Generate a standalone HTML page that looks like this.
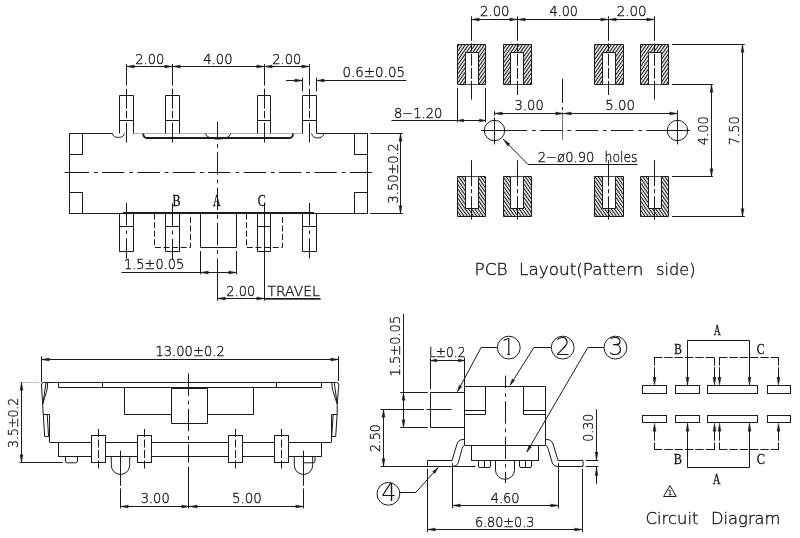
<!DOCTYPE html>
<html><head><meta charset="utf-8"><title>Slide switch drawing</title>
<style>
html,body{margin:0;padding:0;background:#fff}
svg{display:block;will-change:transform}
.ah{fill:#1c1c1c;stroke:#1c1c1c;stroke-width:.4}
.t{font-family:"DejaVu Sans","Liberation Sans",sans-serif;font-weight:200;fill:#151515;stroke:#151515;stroke-width:.35}
.b{stroke-width:.1}
.s{font-family:"Liberation Serif","DejaVu Serif",serif;fill:#111;stroke:#111;stroke-width:.3}
</style></head><body>
<svg width="800" height="538" viewBox="0 0 800 538" fill="none" stroke="#1c1c1c" stroke-width="1">
<defs>
<pattern id="h1" width="2.6" height="2.6" patternUnits="userSpaceOnUse" patternTransform="rotate(35)"><rect width="2.6" height="2.6" fill="#fff" stroke="none"/><line x1="1.3" y1="0" x2="1.3" y2="2.6" stroke="#111" stroke-width="1.1"/></pattern>
<pattern id="h2" width="2.6" height="2.6" patternUnits="userSpaceOnUse" patternTransform="rotate(-35)"><rect width="2.6" height="2.6" fill="#fff" stroke="none"/><line x1="1.3" y1="0" x2="1.3" y2="2.6" stroke="#111" stroke-width="1.1"/></pattern>
</defs>
<rect x="0" y="0" width="800" height="538" fill="#fff" stroke="none"/>
<g>
<g id="topview">
<line x1="69.5" y1="133" x2="69.5" y2="213"/>
<line x1="367.5" y1="133" x2="367.5" y2="213"/>
<line x1="69.6" y1="133.5" x2="112.5" y2="133.5"/>
<path d="M112.5 133.5 A6 4.5 0 0 0 124.4 133.5"/>
<line x1="133.5" y1="133.5" x2="302.9" y2="133.5" stroke-dasharray="1 1" stroke="#6a6a6a"/>
<line x1="316.7" y1="133.5" x2="367.2" y2="133.5"/>
<path d="M311.7 133.5 A6 4.5 0 0 0 323.7 133.5"/>
<path d="M143.2 133.5 Q143.4 138 147 138 H289.3 Q292.9 138 293.1 133.5" stroke-width="1.8"/>
<path d="M205.6 133.5 A12.55 5.6 0 0 0 230.7 133.5"/>
<rect x="69.5" y="133.5" width="13" height="21"/>
<rect x="69.5" y="192.5" width="13" height="21"/>
<rect x="354.5" y="133.5" width="13" height="21"/>
<rect x="354.5" y="192.5" width="13" height="21"/>
<line x1="69.6" y1="213.5" x2="122.8" y2="213.5"/>
<line x1="314.2" y1="213.5" x2="367.2" y2="213.5"/>
<line x1="122.8" y1="213" x2="314.2" y2="213" stroke-width="2"/>
<path d="M119.5 133.5 V95.5 H133.5 V133.5"/>
<line x1="119.7" y1="120.5" x2="133.5" y2="120.5"/>
<path d="M165.5 133.5 V95.5 H179.5 V133.5"/>
<line x1="165.5" y1="120.5" x2="179.3" y2="120.5"/>
<path d="M257.5 133.5 V95.5 H270.5 V133.5"/>
<line x1="257.1" y1="120.5" x2="270.9" y2="120.5"/>
<path d="M302.5 133.5 V95.5 H316.5 V133.5"/>
<line x1="302.9" y1="120.5" x2="316.7" y2="120.5"/>
<path d="M119.5 213.5 V251.5 H133.5 V213.5"/>
<line x1="119.7" y1="226.5" x2="133.5" y2="226.5"/>
<path d="M165.5 213.5 V251.5 H179.5 V213.5"/>
<line x1="165.5" y1="226.5" x2="179.3" y2="226.5"/>
<path d="M257.5 213.5 V251.5 H270.5 V213.5"/>
<line x1="257.1" y1="226.5" x2="270.9" y2="226.5"/>
<path d="M302.5 213.5 V251.5 H316.5 V213.5"/>
<line x1="302.9" y1="226.5" x2="316.7" y2="226.5"/>
<path d="M154.5 213.5 V247.5 H190.5 V213.5" stroke-dasharray="6 2.6"/>
<path d="M246.5 213.5 V247.5 H282.5 V213.5" stroke-dasharray="6 2.6"/>
<path d="M200.5 213.5 V247.5 H236.5 V213.5"/>
<line x1="64.5" y1="172.5" x2="67" y2="172.5"/>
<line x1="369.5" y1="172.5" x2="372" y2="172.5"/>
<line x1="64.5" y1="172.5" x2="372" y2="172.5" stroke-dasharray="22.4 4.9 3.7 4.4" stroke-dashoffset="33.3"/>
<line x1="217.5" y1="121.5" x2="217.5" y2="281.3" stroke-dasharray="22.4 4.9 3.7 4.4" stroke-dashoffset="4.7"/>
<line x1="217.5" y1="281" x2="217.5" y2="300.7"/>
<line x1="126.5" y1="64" x2="126.5" y2="142.5" stroke-dasharray="21.6 3 20 2.2 7.5 4.4 20"/>
<line x1="172.5" y1="64" x2="172.5" y2="142.5" stroke-dasharray="21.6 3 20 2.2 7.5 4.4 20"/>
<line x1="264.5" y1="64" x2="264.5" y2="142.5" stroke-dasharray="21.6 3 20 2.2 7.5 4.4 20"/>
<line x1="309.5" y1="64" x2="309.5" y2="142.5" stroke-dasharray="21.6 3 20 2.2 7.5 4.4 20"/>
<line x1="126.5" y1="203" x2="126.5" y2="258.5" stroke-dasharray="22.4 4.9 3.7 4.4"/>
<line x1="309.5" y1="203" x2="309.5" y2="258.5" stroke-dasharray="22.4 4.9 3.7 4.4"/>
<line x1="172.5" y1="203.4" x2="172.5" y2="259.2" stroke-dasharray="22.4 4.9 3.7 4.4"/>
<line x1="264.5" y1="202.6" x2="264.5" y2="300.7"/>
<text class="s" x="172.6" y="206" font-size="16" textLength="8" lengthAdjust="spacingAndGlyphs">B</text>
<text class="s" x="213" y="206" font-size="16" textLength="7.6" lengthAdjust="spacingAndGlyphs">A</text>
<text class="s" x="257.7" y="206" font-size="16" textLength="8" lengthAdjust="spacingAndGlyphs">C</text>
<line x1="126.6" y1="66.5" x2="309.8" y2="66.5"/>
<polygon class="ah" points="126.5,66.5 134.2,65 134.2,68"/>
<polygon class="ah" points="172.5,66.5 164.8,68 164.8,65"/>
<polygon class="ah" points="172.5,66.5 180.2,65 180.2,68"/>
<polygon class="ah" points="264.5,66.5 256.8,68 256.8,65"/>
<polygon class="ah" points="264.5,66.5 272.2,65 272.2,68"/>
<polygon class="ah" points="309.5,66.5 301.8,68 301.8,65"/>
<text class="t" x="135.3" y="63.5" font-size="14" textLength="29" lengthAdjust="spacingAndGlyphs">2.00</text>
<text class="t" x="203.3" y="63.5" font-size="14" textLength="29.2" lengthAdjust="spacingAndGlyphs">4.00</text>
<text class="t" x="272.3" y="63.5" font-size="14" textLength="29" lengthAdjust="spacingAndGlyphs">2.00</text>
<line x1="302.5" y1="77.6" x2="302.5" y2="91.4"/>
<line x1="316.5" y1="77.6" x2="316.5" y2="91.4"/>
<line x1="286" y1="80.5" x2="302.9" y2="80.5"/>
<polygon class="ah" points="302.5,80.5 294.8,82 294.8,79"/>
<line x1="316.7" y1="80.5" x2="406.3" y2="80.5"/>
<polygon class="ah" points="316.5,80.5 324.2,79 324.2,82"/>
<text class="t" x="342.5" y="77.1" font-size="14" textLength="62.5" lengthAdjust="spacingAndGlyphs">0.6±0.05</text>
<line x1="370.2" y1="133.5" x2="402.8" y2="133.5"/>
<line x1="370.2" y1="213.5" x2="402.8" y2="213.5"/>
<line x1="400.5" y1="133" x2="400.5" y2="213.4"/>
<polygon class="ah" points="400.5,133.5 402,141.2 399,141.2"/>
<polygon class="ah" points="400.5,213.5 399,205.8 402,205.8"/>
<text class="t" x="398" y="203.4" font-size="14" textLength="60.2" lengthAdjust="spacingAndGlyphs" transform="rotate(-90 398 203.4)">3.50±0.2</text>
<line x1="200.5" y1="251" x2="200.5" y2="274.3"/>
<line x1="236.5" y1="251" x2="236.5" y2="274.3"/>
<line x1="121.5" y1="272.5" x2="236.4" y2="272.5"/>
<polygon class="ah" points="200.5,272.5 208.2,271 208.2,274"/>
<polygon class="ah" points="236.5,272.5 228.8,274 228.8,271"/>
<text class="t" x="124" y="268.6" font-size="14" textLength="60.3" lengthAdjust="spacingAndGlyphs">1.5±0.05</text>
<line x1="217.8" y1="298.5" x2="320.5" y2="298.5"/>
<polygon class="ah" points="217.5,298.5 225.2,297 225.2,300"/>
<polygon class="ah" points="264.5,298.5 256.8,300 256.8,297"/>
<text class="t" x="226.3" y="296" font-size="14" textLength="28.9" lengthAdjust="spacingAndGlyphs">2.00</text>
<text class="t" x="267.5" y="296.2" font-size="14" textLength="52.3" lengthAdjust="spacingAndGlyphs">TRAVEL</text>
<line x1="264.5" y1="299.5" x2="320.8" y2="299.5" stroke="#666"/>
</g>
<g id="pcb">
<path d="M457.5 44.5 H485.5 V84.5 H478.5 V52.5 H465.5 V84.5 H457.5 Z" fill="url(#h1)"/>
<line x1="465" y1="84.5" x2="478" y2="84.5" stroke-width="0.8"/>
<path d="M457.5 216.5 H485.5 V176.5 H478.5 V208.5 H465.5 V176.5 H457.5 Z" fill="url(#h2)"/>
<line x1="465" y1="176.5" x2="478" y2="176.5" stroke-width="0.8"/>
<line x1="471.5" y1="16.3" x2="471.5" y2="99.6" stroke-dasharray="24.5 2.5 8 2.5 12 2 11 2 100"/>
<line x1="471.5" y1="160.2" x2="471.5" y2="219.7" stroke-dasharray="26 3 4 3"/>
<path d="M503.5 44.5 H531.5 V84.5 H523.5 V52.5 H510.5 V84.5 H503.5 Z" fill="url(#h1)"/>
<line x1="510.8" y1="84.5" x2="523.8" y2="84.5" stroke-width="0.8"/>
<path d="M503.5 216.5 H531.5 V176.5 H523.5 V208.5 H510.5 V176.5 H503.5 Z" fill="url(#h2)"/>
<line x1="510.8" y1="176.5" x2="523.8" y2="176.5" stroke-width="0.8"/>
<line x1="517.5" y1="16.3" x2="517.5" y2="95" stroke-dasharray="24.5 2.5 8 2.5 12 2 11 2 100"/>
<line x1="517.5" y1="160.2" x2="517.5" y2="219.7" stroke-dasharray="26 3 4 3"/>
<path d="M594.5 44.5 H623.5 V84.5 H615.5 V52.5 H602.5 V84.5 H594.5 Z" fill="url(#h1)"/>
<line x1="602.4" y1="84.5" x2="615.4" y2="84.5" stroke-width="0.8"/>
<path d="M594.5 216.5 H623.5 V176.5 H615.5 V208.5 H602.5 V176.5 H594.5 Z" fill="url(#h2)"/>
<line x1="602.4" y1="176.5" x2="615.4" y2="176.5" stroke-width="0.8"/>
<line x1="608.5" y1="16.3" x2="608.5" y2="95" stroke-dasharray="24.5 2.5 8 2.5 12 2 11 2 100"/>
<line x1="608.5" y1="160.2" x2="608.5" y2="219.7" stroke-dasharray="26 3 4 3"/>
<path d="M640.5 44.5 H668.5 V84.5 H661.5 V52.5 H648.5 V84.5 H640.5 Z" fill="url(#h1)"/>
<line x1="648.2" y1="84.5" x2="661.2" y2="84.5" stroke-width="0.8"/>
<path d="M640.5 216.5 H668.5 V176.5 H661.5 V208.5 H648.5 V176.5 H640.5 Z" fill="url(#h2)"/>
<line x1="648.2" y1="176.5" x2="661.2" y2="176.5" stroke-width="0.8"/>
<line x1="654.5" y1="16.3" x2="654.5" y2="99.6" stroke-dasharray="24.5 2.5 8 2.5 12 2 11 2 100"/>
<line x1="654.5" y1="160.2" x2="654.5" y2="219.7" stroke-dasharray="26 3 4 3"/>
<circle cx="494.5" cy="130.5" r="10.2"/>
<circle cx="677.5" cy="130.5" r="10.2"/>
<line x1="481.2" y1="130.5" x2="507" y2="130.5"/>
<line x1="668" y1="130.5" x2="690.1" y2="130.5"/>
<line x1="481.2" y1="130.5" x2="690.1" y2="130.5" stroke-dasharray="22.4 4.9 3.7 4.4" stroke-dashoffset="11.8"/>
<line x1="494.5" y1="111.2" x2="494.5" y2="115.4"/>
<line x1="494.5" y1="117.6" x2="494.5" y2="144.4"/>
<line x1="677.5" y1="110.4" x2="677.5" y2="144.4"/>
<line x1="562.5" y1="78.9" x2="562.5" y2="103"/>
<line x1="562.5" y1="107.1" x2="562.5" y2="110.1"/>
<line x1="562.5" y1="112.3" x2="562.5" y2="139.8" stroke="#707070"/>
<line x1="471.5" y1="19.5" x2="654.7" y2="19.5"/>
<polygon class="ah" points="471.5,19.5 479.2,18 479.2,21"/>
<polygon class="ah" points="517.5,19.5 509.8,21 509.8,18"/>
<polygon class="ah" points="517.5,19.5 525.2,18 525.2,21"/>
<polygon class="ah" points="608.5,19.5 600.8,21 600.8,18"/>
<polygon class="ah" points="608.5,19.5 616.2,18 616.2,21"/>
<polygon class="ah" points="654.5,19.5 646.8,21 646.8,18"/>
<text class="t" x="480" y="16.3" font-size="14" textLength="29.5" lengthAdjust="spacingAndGlyphs">2.00</text>
<text class="t" x="549.5" y="16.3" font-size="14" textLength="28.5" lengthAdjust="spacingAndGlyphs">4.00</text>
<text class="t" x="616.7" y="16.3" font-size="14" textLength="30" lengthAdjust="spacingAndGlyphs">2.00</text>
<line x1="457.5" y1="87.8" x2="457.5" y2="122.2"/>
<line x1="485.5" y1="87.8" x2="485.5" y2="122.2"/>
<line x1="391.5" y1="120.5" x2="485.4" y2="120.5"/>
<polygon class="ah" points="457.5,120.5 463.5,119 463.5,122"/>
<polygon class="ah" points="485.5,120.5 479.5,122 479.5,119"/>
<text class="t" x="394" y="117.6" font-size="14" textLength="48.4" lengthAdjust="spacingAndGlyphs">8−1.20</text>
<line x1="494.1" y1="113.5" x2="677.3" y2="113.5"/>
<polygon class="ah" points="494.5,113.5 502.2,112 502.2,115"/>
<polygon class="ah" points="563.5,113.5 555.8,115 555.8,112"/>
<polygon class="ah" points="563.5,113.5 571.2,112 571.2,115"/>
<polygon class="ah" points="677.5,113.5 669.8,115 669.8,112"/>
<text class="t" x="514.6" y="109.9" font-size="14" textLength="29.2" lengthAdjust="spacingAndGlyphs">3.00</text>
<text class="t" x="605.2" y="109.9" font-size="14" textLength="29.7" lengthAdjust="spacingAndGlyphs">5.00</text>
<line x1="503.4" y1="139.4" x2="528" y2="164.5"/>
<line x1="528" y1="164.5" x2="637.6" y2="164.5"/>
<polygon class="ah" points="503.4,139.4 509.86,143.85 507.72,145.95"/>
<text class="t" x="537.7" y="161.5" font-size="14" textLength="56.8" lengthAdjust="spacingAndGlyphs">2−ø0.90</text>
<text class="t" x="604.5" y="161.5" font-size="14" textLength="33.1" lengthAdjust="spacingAndGlyphs">holes</text>
<line x1="672" y1="44.5" x2="744.8" y2="44.5"/>
<line x1="672" y1="84.5" x2="712.9" y2="84.5"/>
<line x1="672" y1="176.5" x2="712.9" y2="176.5"/>
<line x1="672" y1="216.5" x2="744.8" y2="216.5"/>
<line x1="711.5" y1="84.9" x2="711.5" y2="176.1"/>
<polygon class="ah" points="711.5,84.5 713,92.2 710,92.2"/>
<polygon class="ah" points="711.5,176.5 710,168.8 713,168.8"/>
<line x1="742.5" y1="44.6" x2="742.5" y2="216.7"/>
<polygon class="ah" points="742.5,44.5 744,52.2 741,52.2"/>
<polygon class="ah" points="742.5,216.5 741,208.8 744,208.8"/>
<text class="t" x="708.4" y="145.2" font-size="14" textLength="28.9" lengthAdjust="spacingAndGlyphs" transform="rotate(-90 708.4 145.2)">4.00</text>
<text class="t" x="738.8" y="145.2" font-size="14" textLength="28.9" lengthAdjust="spacingAndGlyphs" transform="rotate(-90 738.8 145.2)">7.50</text>
<text class="t" y="275" font-size="16.5"><tspan x="474.6" textLength="33" lengthAdjust="spacingAndGlyphs">PCB</tspan> <tspan x="519" textLength="124.5" lengthAdjust="spacingAndGlyphs">Layout(Pattern</tspan> <tspan x="656" textLength="39.5" lengthAdjust="spacingAndGlyphs">side)</tspan></text>
</g>
<g id="side">
<line x1="41.4" y1="359.5" x2="338.6" y2="359.5"/>
<polygon class="ah" points="41.5,359.5 49.2,358 49.2,361"/>
<polygon class="ah" points="338.5,359.5 330.8,361 330.8,358"/>
<line x1="41.5" y1="356.3" x2="41.5" y2="382"/>
<line x1="338.5" y1="356.3" x2="338.5" y2="381"/>
<text class="t" x="155.4" y="355.8" font-size="14" textLength="69.4" lengthAdjust="spacingAndGlyphs">13.00±0.2</text>
<line x1="19.6" y1="382.5" x2="38.9" y2="382.5" stroke-dasharray="1 1" stroke="#888"/>
<line x1="19.6" y1="462.5" x2="62.7" y2="462.5"/>
<line x1="21.5" y1="382.5" x2="21.5" y2="462.8"/>
<polygon class="ah" points="21.5,382.5 23,390.2 20,390.2"/>
<polygon class="ah" points="21.5,462.5 20,454.8 23,454.8"/>
<text class="t" x="18" y="448" font-size="14" textLength="50.3" lengthAdjust="spacingAndGlyphs" transform="rotate(-90 18 448)">3.5±0.2</text>
<path d="M43.5 382.5 H336.5 Q338.9 382.5 338.8 385 L337.2 404.5 V414.5 M43.5 382.5 Q41.4 382.5 41.5 385 L43.2 414.5"/>
<path d="M46 383 L42.8 404 L47.2 389 L47.7 383"/>
<path d="M43.2 414.5 H49.5 M43.3 414.5 L44.6 436.5 H48.6 L47.2 414.5"/>
<line x1="49.5" y1="414.5" x2="49.5" y2="442"/>
<path d="M334.3 383 L337.2 404 L332.3 389 L331.8 383"/>
<path d="M337.1 414.5 H331.5 M337.1 414.5 L335.7 436.5 H331.7 L333.2 414.5"/>
<line x1="331.5" y1="414.5" x2="331.5" y2="442"/>
<line x1="58.3" y1="387.5" x2="321.8" y2="387.5"/>
<line x1="58.5" y1="382.5" x2="58.5" y2="387.3"/>
<line x1="102.5" y1="382.5" x2="102.5" y2="387.3"/>
<line x1="276.5" y1="382.5" x2="276.5" y2="387.3"/>
<line x1="321.5" y1="382.5" x2="321.5" y2="387.3"/>
<path d="M124.5 387.5 V414.5 H171.5 M253.5 387.5 V414.5 H207.5"/>
<path d="M171.5 388.5 V423.5 H207.5 V388.5"/>
<line x1="171.4" y1="388" x2="207.6" y2="388" stroke-width="2"/>
<line x1="49.5" y1="442.5" x2="331.5" y2="442.5"/>
<line x1="58.3" y1="456.5" x2="321.8" y2="456.5"/>
<line x1="58.5" y1="442" x2="58.5" y2="456.5"/>
<line x1="321.5" y1="442" x2="321.5" y2="456.5"/>
<path d="M65.5 456.5 V461 Q65.5 462.8 67.3 462.8 H75.7 Q77.5 462.8 77.5 461 V456.5"/>
<path d="M303.5 456.5 V462.8 H313.2 Q315 462.8 315 461 V456.5"/>
<rect x="91.5" y="435.5" width="14" height="27" fill="#fff"/>
<line x1="98.5" y1="429" x2="98.5" y2="469" stroke-dasharray="8 2.5"/>
<rect x="137.5" y="435.5" width="14" height="27" fill="#fff"/>
<line x1="144.5" y1="429" x2="144.5" y2="469" stroke-dasharray="8 2.5"/>
<rect x="228.5" y="435.5" width="14" height="27" fill="#fff"/>
<line x1="235.5" y1="429" x2="235.5" y2="469" stroke-dasharray="8 2.5"/>
<rect x="274.5" y="435.5" width="14" height="27" fill="#fff"/>
<line x1="281.5" y1="429" x2="281.5" y2="469" stroke-dasharray="8 2.5"/>
<path d="M111.3 456.5 V465.3 A9.2 9.2 0 0 0 129.7 465.3 V456.5"/>
<path d="M294.3 456.5 V465.3 A9.2 9.2 0 0 0 312.7 465.3 V456.5"/>
<line x1="120.5" y1="450.7" x2="120.5" y2="485.8"/>
<line x1="120.5" y1="488.3" x2="120.5" y2="508.4"/>
<line x1="303.5" y1="450.7" x2="303.5" y2="485.8"/>
<line x1="303.5" y1="488.3" x2="303.5" y2="508.4"/>
<line x1="188.5" y1="373.4" x2="188.5" y2="462.6" stroke-dasharray="22.4 4.9 3.7 4.4"/>
<line x1="188.5" y1="466.8" x2="188.5" y2="508.6"/>
<line x1="120.7" y1="506.5" x2="303.7" y2="506.5"/>
<polygon class="ah" points="120.5,506.5 128.2,505 128.2,508"/>
<polygon class="ah" points="189.5,506.5 181.8,508 181.8,505"/>
<polygon class="ah" points="189.5,506.5 197.2,505 197.2,508"/>
<polygon class="ah" points="303.5,506.5 295.8,508 295.8,505"/>
<text class="t" x="140.7" y="502.9" font-size="14" textLength="29" lengthAdjust="spacingAndGlyphs">3.00</text>
<text class="t" x="231.9" y="502.9" font-size="14" textLength="30" lengthAdjust="spacingAndGlyphs">5.00</text>
</g>
<g id="end">
<line x1="403.5" y1="313.8" x2="403.5" y2="427"/>
<polygon class="ah" points="403.5,392.5 405,400.2 402,400.2"/>
<polygon class="ah" points="403.5,427.5 402,419.8 405,419.8"/>
<line x1="400.2" y1="392.5" x2="427.8" y2="392.5"/>
<line x1="400.2" y1="427.5" x2="427.8" y2="427.5"/>
<text class="t" x="399.6" y="376.4" font-size="14" textLength="60.6" lengthAdjust="spacingAndGlyphs" transform="rotate(-90 399.6 376.4)">1.5±0.05</text>
<path d="M464.5 392.5 H430.5 V427.5 H464.5"/>
<line x1="380.6" y1="409.5" x2="424" y2="409.5"/>
<line x1="426.5" y1="409.5" x2="451.6" y2="409.5"/>
<line x1="430.5" y1="357.7" x2="430.5" y2="389"/>
<line x1="464.5" y1="357.7" x2="464.5" y2="389"/>
<line x1="430.3" y1="360.5" x2="464.9" y2="360.5"/>
<polygon class="ah" points="430.5,360.5 436.5,359 436.5,362"/>
<polygon class="ah" points="464.5,360.5 458.5,362 458.5,359"/>
<text class="t" x="429" y="357.2" font-size="14" textLength="36.4" lengthAdjust="spacingAndGlyphs">L±0.2</text>
<path d="M464.5 445.5 V386.5 H545.5 V445.5"/>
<path d="M485.5 386.5 V414.5 H464.5 M464.5 410.5 H485.5"/>
<path d="M523.5 386.5 V414.5 H545.5 M545.5 410.5 H523.5"/>
<line x1="464.9" y1="445.5" x2="545" y2="445.5"/>
<rect x="471.5" y="445.5" width="67" height="15"/>
<path d="M478.5 460.5 V466 Q478.5 467.5 480 467.5 H489 Q490.5 467.5 490.5 466 V460.5 M484.5 460.5 V467.5"/>
<path d="M519.5 460.5 V466 Q519.5 467.5 521 467.5 H530 Q531.5 467.5 531.5 466 V460.5 M525.5 460.5 V467.5"/>
<path d="M495.5 460.5 V470 A9.5 9.3 0 0 0 514.5 470 V460.5"/>
<line x1="505.5" y1="375.6" x2="505.5" y2="483" stroke-dasharray="22.4 4.9 3.7 4.4" stroke-dashoffset="9.75"/>
<path d="M464.5 439.5 H463 Q458.5 439.5 457 444 L452 460.5 H427.5 V466.5 H452.5 Q457 466.5 458.2 463 L462.2 448.5 Q463 445.5 464.5 445.5"/>
<path d="M545.5 439.5 H547 Q551.5 439.5 553 444 L558 460.5 H583 V466.5 H558 Q553.5 466.5 552.3 463 L548 448.5 Q547.2 445.5 545.5 445.5"/>
<line x1="383.5" y1="409.7" x2="383.5" y2="466.5"/>
<polygon class="ah" points="383.5,409.5 385,417.2 382,417.2"/>
<polygon class="ah" points="383.5,466.5 382,458.8 385,458.8"/>
<line x1="380.6" y1="466.5" x2="475.4" y2="466.5"/>
<text class="t" x="379.6" y="451.9" font-size="14" textLength="27.6" lengthAdjust="spacingAndGlyphs" transform="rotate(-90 379.6 451.9)">2.50</text>
<line x1="585.8" y1="460.5" x2="598.4" y2="460.5"/>
<line x1="585.8" y1="466.5" x2="598.4" y2="466.5"/>
<line x1="596.5" y1="409.3" x2="596.5" y2="460.3"/>
<polygon class="ah" points="596.5,459.8 595,452.1 598,452.1"/>
<line x1="596.5" y1="466.5" x2="596.5" y2="483.8"/>
<polygon class="ah" points="596.5,467.8 598,475.5 595,475.5"/>
<text class="t" x="593.4" y="441.8" font-size="14" textLength="28.1" lengthAdjust="spacingAndGlyphs" transform="rotate(-90 593.4 441.8)">0.30</text>
<line x1="452.5" y1="463.2" x2="452.5" y2="508.4"/>
<line x1="558.5" y1="463.2" x2="558.5" y2="508.4"/>
<line x1="452.6" y1="505.5" x2="558.2" y2="505.5"/>
<polygon class="ah" points="452.5,505.5 460.2,504 460.2,507"/>
<polygon class="ah" points="558.5,505.5 550.8,507 550.8,504"/>
<text class="t" x="490.7" y="502.6" font-size="14" textLength="28.9" lengthAdjust="spacingAndGlyphs">4.60</text>
<line x1="427.5" y1="468.7" x2="427.5" y2="532.2"/>
<line x1="582.5" y1="468.7" x2="582.5" y2="532.2"/>
<line x1="427.3" y1="529.5" x2="582.8" y2="529.5"/>
<polygon class="ah" points="427.5,529.5 435.2,528 435.2,531"/>
<polygon class="ah" points="582.5,529.5 574.8,531 574.8,528"/>
<text class="t" x="474.9" y="526.5" font-size="14" textLength="59.5" lengthAdjust="spacingAndGlyphs">6.80±0.3</text>
<circle cx="508.8" cy="347.6" r="11.4"/>
<clipPath id="c1"><path d="M498 334 H520 V353.9 H510 V358 H507.4 V353.9 H498Z"/></clipPath>
<text class="t b" x="508.3" y="355.2" font-size="22.5" text-anchor="middle" clip-path="url(#c1)">1</text>
<path d="M497.4 347.5 L481.2 347.5 L457.4 391.6"/>
<polygon class="ah" points="457.4,391.6 459.17,385.17 461.81,386.59"/>
<circle cx="562.7" cy="347.6" r="11.4"/>
<text class="t b" x="563.2" y="355.2" font-size="24" text-anchor="middle">2</text>
<path d="M551.3 347.5 L533.9 347.5 L510 385.3"/>
<polygon class="ah" points="510,385.3 512.21,379 514.74,380.61"/>
<circle cx="615.4" cy="347.6" r="11.4"/>
<text class="t b" x="615.9" y="355.2" font-size="24" text-anchor="middle">3</text>
<path d="M604 347.5 L587.8 347.5 L526.9 451.9"/>
<polygon class="ah" points="526.9,451.9 528.88,445.53 531.47,447.04"/>
<circle cx="388.4" cy="493.8" r="11.4"/>
<text class="t b" x="388.9" y="501.4" font-size="24" text-anchor="middle">4</text>
<path d="M399.8 492.5 L415.7 492.5 L438.1 467.6"/>
<polygon class="ah" points="438.1,467.6 434.87,473.44 432.64,471.43"/>
</g>
<g id="circuit">
<rect x="642.5" y="385.5" width="24" height="8"/>
<rect x="642.5" y="415.5" width="24" height="7"/>
<rect x="675.5" y="385.5" width="24" height="8"/>
<rect x="675.5" y="415.5" width="24" height="7"/>
<rect x="707.5" y="385.5" width="50" height="8"/>
<rect x="707.5" y="415.5" width="50" height="7"/>
<rect x="767.5" y="385.5" width="23" height="8"/>
<rect x="767.5" y="415.5" width="23" height="7"/>
<path d="M687.5 385.5 V340.5 H749.5 V385.5"/>
<line x1="654" y1="357.5" x2="715" y2="357.5" stroke-dasharray="8.4 1.92"/>
<line x1="654.5" y1="357.5" x2="654.5" y2="380" stroke-dasharray="8.2 1.5 12"/>
<line x1="714.5" y1="357.5" x2="714.5" y2="380" stroke-dasharray="8.2 1.5 12"/>
<line x1="719" y1="357.5" x2="779" y2="357.5" stroke-dasharray="8.4 1.92"/>
<line x1="719.5" y1="357.5" x2="719.5" y2="380" stroke-dasharray="8.2 1.5 12"/>
<line x1="778.5" y1="357.5" x2="778.5" y2="380" stroke-dasharray="8.2 1.5 12"/>
<polygon class="ah" points="654.5,385.3 653,377.3 656,377.3"/>
<polygon class="ah" points="687.5,385.3 686,377.3 689,377.3"/>
<polygon class="ah" points="714.5,385.3 713,377.3 716,377.3"/>
<polygon class="ah" points="719.5,385.3 718,377.3 721,377.3"/>
<polygon class="ah" points="749.5,385.3 748,377.3 751,377.3"/>
<polygon class="ah" points="778.5,385.3 777,377.3 780,377.3"/>
<path d="M687.5 423.5 V467.5 H749.5 V423.5"/>
<line x1="654" y1="449.5" x2="715" y2="449.5" stroke-dasharray="8.4 1.92"/>
<line x1="654.5" y1="450" x2="654.5" y2="428" stroke-dasharray="7.5 1.8 12"/>
<line x1="714.5" y1="450" x2="714.5" y2="428" stroke-dasharray="7.5 1.8 12"/>
<line x1="719" y1="449.5" x2="779" y2="449.5" stroke-dasharray="8.4 1.92"/>
<line x1="719.5" y1="450" x2="719.5" y2="428" stroke-dasharray="7.5 1.8 12"/>
<line x1="778.5" y1="450" x2="778.5" y2="428" stroke-dasharray="7.5 1.8 12"/>
<polygon class="ah" points="654.5,423.2 656,431.2 653,431.2"/>
<polygon class="ah" points="687.5,423.2 689,431.2 686,431.2"/>
<polygon class="ah" points="714.5,423.2 716,431.2 713,431.2"/>
<polygon class="ah" points="719.5,423.2 721,431.2 718,431.2"/>
<polygon class="ah" points="749.5,423.2 751,431.2 748,431.2"/>
<polygon class="ah" points="778.5,423.2 780,431.2 777,431.2"/>
<text class="s" x="713.8" y="334.5" font-size="15" textLength="7" lengthAdjust="spacingAndGlyphs">A</text>
<text class="s" x="674.2" y="354.3" font-size="15" textLength="7.6" lengthAdjust="spacingAndGlyphs">B</text>
<text class="s" x="756.7" y="354.3" font-size="15" textLength="7.9" lengthAdjust="spacingAndGlyphs">C</text>
<text class="s" x="673.8" y="464.2" font-size="15" textLength="8.2" lengthAdjust="spacingAndGlyphs">B</text>
<text class="s" x="756.7" y="464.2" font-size="15" textLength="8.2" lengthAdjust="spacingAndGlyphs">C</text>
<text class="s" x="712.8" y="484.2" font-size="15" textLength="7.8" lengthAdjust="spacingAndGlyphs">A</text>
<path d="M663.6 496.5 H676.3 L670 485.6 Z"/>
<text class="t" x="670" y="495.4" font-size="7" text-anchor="middle">1</text>
<text class="t" y="524.4" font-size="16.5"><tspan x="645.5" textLength="53" lengthAdjust="spacingAndGlyphs">Circuit</tspan> <tspan x="711" textLength="69.5" lengthAdjust="spacingAndGlyphs">Diagram</tspan></text>
</g>
</g>
</svg>
</body></html>
